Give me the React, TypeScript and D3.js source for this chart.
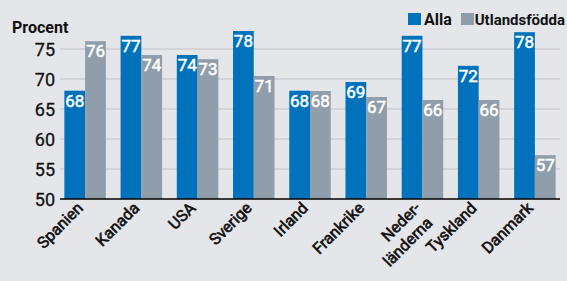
import React from "react";
import * as d3 from "d3";

const countries = ["Spanien", "Kanada", "USA", "Sverige", "Irland", "Frankrike", "Neder-\nländerna", "Tyskland", "Danmark"];
const alla = [68.05, 77.2, 74, 78, 68.05, 69.5, 77.2, 72.2, 77.8];
const utlandsfodda = [76.3, 74, 73.3, 70.5, 68, 67, 66.5, 66.5, 57.3];
const allaLabels = ["68", "77", "74", "78", "68", "69", "77", "72", "78"];
const utlLabels = ["76", "74", "73", "71", "68", "67", "66", "66", "57"];
const yTicks = [50, 55, 60, 65, 70, 75];
const seriesNames = ["Alla", "Utlandsfödda"];

const W = 567;
const H = 281;
const BLUE = "#0072bc";
const GREY = "#909eac";
const BG = "#e5e6ea";
const FONT = "'Liberation Sans Narrow', 'Arial Narrow', 'Roboto', sans-serif";

const App = () => {
  const x = d3.scaleBand<string>().domain(countries).range([57, 563]).paddingInner(0.262).paddingOuter(0.131);
  const sub = d3.scaleBand<string>().domain(seriesNames).range([0, x.bandwidth()]);
  const y = d3.scaleLinear().domain([50, 80]).range([199, 19]);
  const series = [
    { name: "Alla", values: alla, labels: allaLabels, color: BLUE },
    { name: "Utlandsfödda", values: utlandsfodda, labels: utlLabels, color: GREY },
  ];

  return (
    <div style={{ position: "fixed", left: 0, top: 0 }}>
      <svg width={W} height={H} style={{ display: "block", fontFamily: FONT }}>
        <rect width={W} height={H} fill={BG} />
        {yTicks.slice(1).map((t) => (
          <line key={t} x1={60} x2={560} y1={y(t)} y2={y(t)} stroke="#cdced3" strokeWidth={1.5} />
        ))}
        {yTicks.map((t) => (
          <text key={t} x={55} y={y(t) + 6.5} textAnchor="end" fontSize={18} fill="#111" stroke="#111" strokeWidth={0.3}>
            {t}
          </text>
        ))}
        <text x={12} y={33} fontSize={16} fontWeight="bold" fill="#111">
          Procent
        </text>
        {series.map((s) =>
          countries.map((c, i) => {
            const bx = (x(c) ?? 0) + (sub(s.name) ?? 0);
            const bw = sub.bandwidth();
            const top = y(s.values[i]);
            return (
              <g key={s.name + c}>
                <rect x={bx} y={top} width={bw} height={y(50) - top} fill={s.color} />
                <text
                  x={bx + bw / 2}
                  y={top + 16}
                  textAnchor="middle"
                  fontSize={17}
                  fill="#fff"
                  stroke="#fff"
                  strokeWidth={0.5}
                >
                  {s.labels[i]}
                </text>
              </g>
            );
          })
        )}
        <line x1={60} x2={560} y1={y(50)} y2={y(50)} stroke="#000" strokeWidth={1.5} />
        {countries.map((c) => {
          const cx = (x(c) ?? 0) + x.bandwidth() / 2;
          const lines = c.split("\n");
          return (
            <text
              key={c}
              transform={`translate(${cx - 1},209) rotate(-45)`}
              textAnchor="end"
              fontSize={16}
              fill="#111"
              stroke="#111"
              strokeWidth={0.6}
            >
              {lines.map((l, j) => (
                <tspan key={j} x={j === 0 ? 0 : -2} dy={j === 0 ? 0 : 19}>
                  {l}
                </tspan>
              ))}
            </text>
          );
        })}
        <g transform="translate(408,12)">
          <rect x={0} y={1} width={13} height={12} fill={BLUE} />
          <text x={16} y={12.5} fontSize={16} fontWeight="bold" fill="#111">
            Alla
          </text>
          <rect x={53} y={1} width={13} height={12} fill={GREY} />
          <text x={157} y={12.5} textAnchor="end" fontSize={15} fontWeight="bold" fill="#111">
            Utlandsfödda
          </text>
        </g>
      </svg>
    </div>
  );
};

export default App;
